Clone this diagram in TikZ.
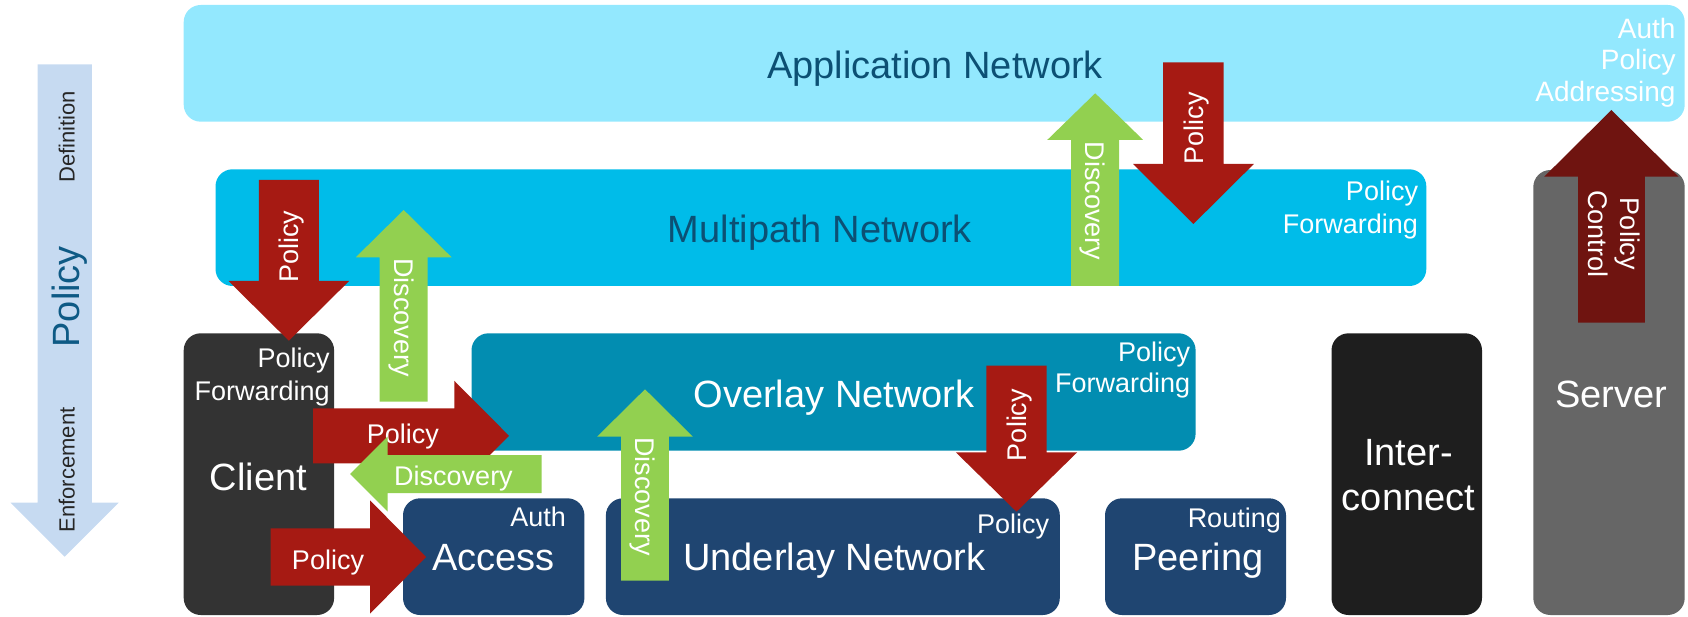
\documentclass[tikz,border=0pt]{standalone}
\usepackage{fontspec}
\setmainfont{Liberation Sans}
\definecolor{appc}{HTML}{93E8FE}
\definecolor{multic}{HTML}{00BCE9}
\definecolor{overc}{HTML}{028DB1}
\definecolor{navyc}{HTML}{1F4571}
\definecolor{clientc}{HTML}{333333}
\definecolor{interc}{HTML}{1E1E1E}
\definecolor{serverc}{HTML}{666666}
\definecolor{polred}{HTML}{A61A13}
\definecolor{discgreen}{HTML}{92D050}
\definecolor{ctrlred}{HTML}{6F1410}
\definecolor{barc}{HTML}{C6DAF1}
\definecolor{tealtxt}{HTML}{0C5074}
\definecolor{polblue}{HTML}{0E5A85}
\definecolor{bartxt}{HTML}{262626}
\newcommand{\blkv}[7]{\fill[#1] (#2-#6,#3) -- (#2+#6,#3) -- (#2+#6,#4) -- (#2+#7,#4) -- (#2,#5) -- (#2-#7,#4) -- (#2-#6,#4) -- cycle;}
\newcommand{\blkh}[7]{\fill[#1] (#3,#2-#6) -- (#4,#2-#6) -- (#4,#2-#7) -- (#5,#2) -- (#4,#2+#7) -- (#4,#2+#6) -- (#3,#2+#6) -- cycle;}
\tikzset{
  layerbox/.style={rounded corners=17pt},
  big/.style={font=\fontsize{38}{40}\selectfont, text=white, inner sep=0pt, anchor=base},
  small/.style={font=\fontsize{27}{30}\selectfont, text=white, inner sep=0pt, anchor=base east},
  alab/.style={font=\fontsize{27}{30}\selectfont, text=white, inner sep=0pt, anchor=base},
  bartext/.style={font=\fontsize{22}{24}\selectfont, text=bartxt, inner sep=0pt, anchor=base},
}
\begin{document}
\begin{tikzpicture}[x=1pt,y=-1pt]
\useasboundingbox (0,0) rectangle (1688,617);
% policy bar
\blkv{barc}{64.65}{64.3}{502.7}{556.7}{27.15}{54}
\node[bartext, rotate=90] (defn) at (74.6,136.7) {Definition};
\node[bartext, rotate=90] (enf) at (74.6,470) {Enforcement};
\node[big, text=polblue, rotate=90] (pol) at (79,296.7) {Policy};
% layer boxes
\fill[appc, layerbox] (183.7,5) rectangle (1684.7,121.7);
\fill[multic, layerbox] (215.5,169.3) rectangle (1426.3,286);
\fill[overc, layerbox] (471.5,333.3) rectangle (1195.6,450.7);
\fill[clientc, layerbox] (183.7,333.3) rectangle (334.1,615);
\fill[navyc, layerbox] (403,498.3) rectangle (584.4,615);
\fill[navyc, layerbox] (605.9,498.3) rectangle (1059.8,615);
\fill[navyc, layerbox] (1105,498.3) rectangle (1286,615);
\fill[interc, layerbox] (1331.5,333.3) rectangle (1482,615);
\fill[serverc, layerbox] (1533.3,170) rectangle (1684.7,615);
% box titles
\node[big, text=tealtxt] (appl) at (935,78.3) {Application Network};
\node[big, text=tealtxt] (multi) at (820,242.7) {Multipath Network};
\node[big] (over) at (834,407.3) {Overlay Network};
\node[big] (client) at (258.5,490) {Client};
\node[big] (access) at (493.3,570.7) {Access};
\node[big] (under) at (834.2,570.7) {Underlay Network};
\node[big] (peer) at (1197.9,570.7) {Peering};
\node[big] (inter1) at (1408.6,465.7) {Inter-};
\node[big] (inter2) at (1408.5,510.7) {connect};
\node[big] (server) at (1611,407.3) {Server};
% box small labels
\node[small, font=\fontsize{28}{30}\selectfont] (appa) at (1675.7,39) {Auth};
\node[small, font=\fontsize{28}{30}\selectfont] (appp) at (1675.7,70) {Policy};
\node[small, font=\fontsize{28}{30}\selectfont] (appd) at (1675.7,101.7) {Addressing};
\node[small] (mulp) at (1418.2,201) {Policy};
\node[small] (mulf) at (1418.2,233.3) {Forwarding};
\node[small] (clip) at (329.9,367.7) {Policy};
\node[small] (clif) at (329.9,400) {Forwarding};
\node[small] (ovp) at (1190.4,361) {Policy};
\node[small] (ovf) at (1190.4,392.7) {Forwarding};
\node[small] (acca) at (566,526) {Auth};
\node[small] (undp) at (1049.4,533.3) {Policy};
\node[small] (peerr) at (1281,527.7) {Routing};
% arrows: multipath -> client (policy)
\blkv{polred}{288.8}{180}{281}{340.7}{30}{60.3}
\node[alab, rotate=90] (a1) at (298.5,246.7) {Policy};
% client -> multipath (discovery)
\blkv{discgreen}{403.7}{401.7}{257.3}{210}{24}{47.9}
\node[alab, rotate=-90] (a2) at (394,317.5) {Discovery};
% application -> multipath (policy)
\blkv{polred}{1193.4}{62.3}{164}{224}{30.3}{60.4}
\node[alab, rotate=90] (a9) at (1203.1,128.3) {Policy};
% multipath -> application (discovery)
\blkv{discgreen}{1095.2}{286}{140}{93.3}{24}{48}
\node[alab, rotate=-90] (a8) at (1085.5,200.8) {Discovery};
% server -> application (policy control)
\blkv{ctrlred}{1611.4}{322.7}{176.7}{110}{33.4}{67.2}
\node[alab, rotate=-90] (a10a) at (1620,234) {Policy};
\node[alab, rotate=-90] (a10b) at (1588,234) {Control};
% client -> overlay (policy)
\blkh{polred}{435.8}{313}{454.3}{509}{27.5}{55}
\node[alab] (a3) at (402.8,443.3) {Policy};
% overlay -> client (discovery)
\blkh{discgreen}{474}{541.5}{387.7}{350.2}{19}{37.5}
\node[alab] (a4) at (453.5,485) {Discovery};
% client -> access (policy)
\blkh{polred}{557}{270.6}{370}{426}{28.7}{56.7}
\node[alab] (a5) at (328,569.3) {Policy};
% underlay -> overlay (discovery)
\blkv{discgreen}{645}{580.7}{436.7}{389.3}{23.9}{47.9}
\node[alab, rotate=-90] (a6) at (635.3,496.7) {Discovery};
% overlay -> underlay (policy)
\blkv{polred}{1016.5}{365.7}{452.3}{511.7}{30.2}{60.7}
\node[alab, rotate=90] (a7) at (1026.2,425) {Policy};
\end{tikzpicture}
\end{document}
